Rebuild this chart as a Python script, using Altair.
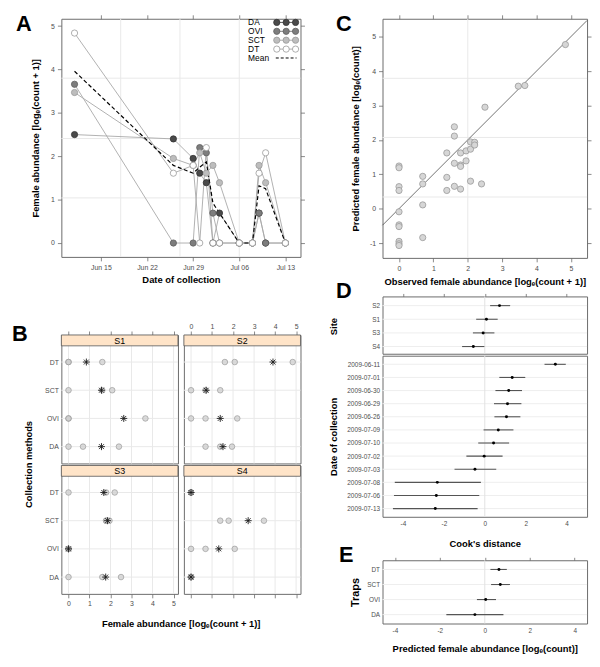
import altair as alt
import pandas as pd

FONT = "Liberation Sans"
LBL = "#4d4d4d"
EDGE = "#6b6b6b"
GRID = "#e9e9e9"
STRIP_FILL = "#ffe4c8"
AST = "M-1,0L1,0M0,-1L0,1M-0.7,-0.7L0.7,0.7M-0.7,0.7L0.7,-0.7"

# ---------------- Panel A data ----------------
a_dates = ["2009-06-11", "2009-06-26", "2009-06-29", "2009-06-30", "2009-07-01", "2009-07-02",
           "2009-07-03", "2009-07-06", "2009-07-08", "2009-07-09", "2009-07-10", "2009-07-13"]
a_traps = ["DA", "OVI", "SCT", "DT"]
a_DA = [2.50, 2.40, 1.95, 1.61, 1.39, 0.00, 0.69, 0.00, 0.00, 0.69, 0.00, 0.00]
a_OVI = [3.66, 0.00, 0.00, 2.20, 2.08, 0.69, 0.00, 0.00, 0.00, 0.69, 0.00, 0.00]
a_SCT = [3.47, 1.95, 1.79, 2.08, 1.61, 1.79, 1.39, 0.00, 0.00, 1.79, 1.39, 0.00]
a_DT = [4.84, 1.61, 1.79, 0.00, 2.20, 0.00, 0.00, 0.00, 0.00, 1.61, 2.08, 0.00]
a_mean = [3.96, 1.79, 1.61, 1.75, 1.87, 0.92, 0.69, 0.00, 0.00, 1.32, 1.25, 0.00]
a_xticks = ["2009-06-15", "2009-06-22", "2009-06-29", "2009-07-06", "2009-07-13"]
a_yticks = [0, 1, 2, 3, 4, 5]
a_grid_dates = ["2009-06-18", "2009-06-27", "2009-07-06"]
a_grid_vals = [1.04, 2.41, 3.80]
a_legend = ["DA", "OVI", "SCT", "DT", "Mean"]
trap_fill = ["#4a4a4a", "#7d7d7d", "#bdbdbd", "#ffffff"]
trap_stroke = ["#333333", "#5e5e5e", "#9a9a9a", "#9a9a9a"]

# ---------------- Panel B data ----------------
b_order = ["DT", "SCT", "OVI", "DA"]
b_site = ["S1"] * 12 + ["S2"] * 12 + ["S3"] * 12 + ["S4"] * 12
b_trap = (["DT"] * 3 + ["SCT"] * 3 + ["OVI"] * 3 + ["DA"] * 3) * 4
b_value = [0, 0, 1.61, 0, 1.61, 2.08, 0, 0, 3.66, 0, 0.69, 2.40,
           1.61, 2.08, 4.84, 0, 0.69, 1.39, 0, 0.69, 2.20, 0.69, 1.39, 1.95,
           0, 1.79, 2.20, 1.79, 1.79, 1.95, 0, 0, 0, 0, 1.61, 2.50,
           0, 0, 0, 1.39, 1.79, 3.47, 0, 0.69, 2.08, 0, 0, 0]
bm_site = ["S1"] * 4 + ["S2"] * 4 + ["S3"] * 4 + ["S4"] * 4
bm_trap = b_order * 4
bm_value = [0.85, 1.57, 2.63, 1.57, 3.90, 0.72, 1.39, 1.52,
            1.68, 1.86, 0.00, 1.77, 0.00, 2.72, 1.32, 0.00]
b_xticks = [0, 1, 2, 3, 4, 5]

# ---------------- Panel C data ----------------
c_obs = [0, 0, 0, 0, 0, 0, 0, 0, 0, 0,
         0.69, 0.69, 0.69, 0.69,
         1.39, 1.39, 1.39,
         1.61, 1.61, 1.61, 1.61,
         1.79, 1.79, 1.79, 1.79,
         1.95, 1.95,
         2.08, 2.08, 2.08,
         2.20, 2.20,
         2.40, 2.50, 3.47, 3.66, 4.84]
c_pred = [1.24, 1.19, 0.64, 0.53, -0.09, -0.47, -0.52, -0.95, -1.02, -1.07,
          0.94, 0.72, 0.11, -0.84,
          1.62, 0.91, 0.53,
          2.38, 2.11, 1.32, 0.65,
          1.62, 1.27, 1.23, 0.57,
          1.68, 1.39,
          1.94, 1.73, 0.80,
          1.93, 1.85,
          0.72, 2.95, 3.56, 3.58, 4.77]
c_abline = [-0.48, 5.47]
c_xticks = [0, 1, 2, 3, 4, 5]
c_yticks = [-1, 0, 1, 2, 3, 4, 5]
c_grid_x = [2.0]
c_grid_y = [0.34, 2.07, 3.79]

# ---------------- Panel D data ----------------
d_sites = ["S2", "S1", "S3", "S4"]
d_site_est = [0.72, 0.08, -0.08, -0.56]
d_site_lo = [0.26, -0.42, -0.58, -1.11]
d_site_hi = [1.24, 0.63, 0.47, -0.02]
d_dates = ["2009-06-11", "2009-07-01", "2009-06-30", "2009-06-29", "2009-06-26", "2009-07-09",
           "2009-07-10", "2009-07-02", "2009-07-03", "2009-07-08", "2009-07-06", "2009-07-13"]
d_date_est = [3.45, 1.34, 1.17, 1.11, 1.06, 0.66, 0.43, -0.03, -0.48, -2.32, -2.37, -2.42]
d_date_lo = [2.92, 0.71, 0.52, 0.45, 0.47, -0.06, -0.32, -0.90, -1.48, -4.40, -4.44, -4.49]
d_date_hi = [3.96, 1.98, 1.82, 1.79, 1.74, 1.40, 1.19, 0.87, 0.56, -0.19, -0.27, -0.35]
de_xticks = [-4, -2, 0, 2, 4]

# ---------------- Panel E data ----------------
e_traps = ["DT", "SCT", "OVI", "DA"]
e_est = [0.63, 0.69, 0.04, -0.44]
e_lo = [0.25, 0.28, -0.35, -1.71]
e_hi = [0.98, 1.12, 0.50, 0.83]


def dt(s, hours=0):
    y, m, d = (int(p) for p in s.split("-"))
    return alt.DateTime(year=y, month=m, date=d, hours=hours, utc=True)


def axis(**kw):
    base = dict(labelFont=FONT, labelColor=LBL, labelFontSize=7, tickColor=EDGE, tickSize=4,
                tickWidth=0.8, domain=False, grid=False, titleFont=FONT, titleFontSize=9.5,
                titleFontWeight="bold", titleColor="black", labelPadding=2, labelFlush=False)
    base.update(kw)
    return alt.Axis(**base)


def label(txt, x, y, size=22, color="black"):
    return alt.Chart(pd.DataFrame({"t": [txt]})).mark_text(
        align="left", baseline="top", font=FONT, fontSize=size, fontWeight="bold", color=color
    ).encode(x=alt.value(x), y=alt.value(y), text="t:N")


def spacer(x, y):
    return label("|", x, y, size=6, color="white")


NUM = "'' + datum.value"

# ================= Panel A =================
A_W, A_H = 242, 241
xA = alt.Scale(type="utc", domain=[dt("2009-06-09"), dt("2009-07-15", 7)], nice=False)
yA = alt.Scale(domain=[-0.32, 5.17], nice=False, zero=False)
xA_vals = [dt(s) for s in a_xticks]

a_df = pd.DataFrame({"date": a_dates * 4,
                     "trap": [t for t in a_traps for _ in a_dates],
                     "value": a_DA + a_OVI + a_SCT + a_DT})
a_mean_df = pd.DataFrame({"date": a_dates, "value": a_mean})

A_gridv = alt.Chart(pd.DataFrame({"date": a_grid_dates})).mark_rule(color=GRID, strokeWidth=1).encode(
    x=alt.X("date:T", scale=xA, axis=axis(orient="top", values=xA_vals, labels=False, title=None)))
A_gridh = alt.Chart(pd.DataFrame({"value": a_grid_vals})).mark_rule(color=GRID, strokeWidth=1).encode(
    y=alt.Y("value:Q", scale=yA, axis=axis(orient="right", values=a_yticks, labels=False, title=None)))
A_lines = alt.Chart(a_df).mark_line(color="#a8a8a8", strokeWidth=0.9).encode(
    x=alt.X("date:T", scale=xA, axis=None), y=alt.Y("value:Q", scale=yA, axis=None), detail="trap:N")
A_mean = alt.Chart(a_mean_df).mark_line(color="black", strokeWidth=1.2, strokeDash=[4, 2.5]).encode(
    x=alt.X("date:T", scale=xA, axis=None), y=alt.Y("value:Q", scale=yA, axis=None))
A_pts = alt.Chart(a_df).mark_point(shape="circle", filled=True, size=40, opacity=1, strokeWidth=0.8).encode(
    x=alt.X("date:T", scale=xA, axis=axis(values=xA_vals, labelExpr="utcFormat(datum.value, '%b %d')",
                                          title="Date of collection", titleY=18, labelPadding=3)),
    y=alt.Y("value:Q", scale=yA, axis=axis(values=a_yticks, title="Female abundance [logₑ(count + 1)]",
                                           titleX=-21, labelPadding=3)),
    fill=alt.Fill("trap:N", scale=alt.Scale(domain=a_traps, range=trap_fill), legend=None),
    stroke=alt.Stroke("trap:N", scale=alt.Scale(domain=a_traps, range=trap_stroke), legend=None))

leg_df = pd.DataFrame({"name": a_legend, "row": list(range(len(a_legend))),
                       "fill": trap_fill + ["#ffffff"], "stroke": trap_stroke + ["#000000"]})
leg_y = alt.Y("row:Q", scale=alt.Scale(domain=[0, 4], range=[3.7, 39.7]), axis=None)
leg_text = alt.Chart(leg_df).mark_text(align="left", baseline="middle", font=FONT, fontSize=8.5,
                                       color="black").encode(x=alt.value(189), y=leg_y, text="name:N")
leg_line = alt.Chart(leg_df).transform_filter("datum.row < 4").mark_rule(strokeWidth=0.8).encode(
    x=alt.value(217), x2=alt.value(238), y=leg_y, color=alt.Color("stroke:N", scale=None))
leg_mean = alt.Chart(leg_df).transform_filter("datum.row == 4").mark_rule(
    strokeWidth=1, strokeDash=[3, 2], color="black").encode(x=alt.value(217), x2=alt.value(238), y=leg_y)
leg_pts = [alt.Chart(leg_df).transform_filter("datum.row < 4").mark_point(
    shape="circle", filled=True, size=40, opacity=1, strokeWidth=0.8).encode(
    x=alt.value(px), y=leg_y, fill=alt.Fill("fill:N", scale=None), stroke=alt.Stroke("stroke:N", scale=None))
    for px in (218, 227.5, 237)]

A = alt.layer(A_gridv, A_gridh, A_lines, A_mean, A_pts, leg_line, leg_mean, *leg_pts, leg_text,
              label("A", -46, -5)).resolve_scale(y="independent").resolve_axis(
    x="independent", y="independent").properties(width=A_W, height=A_H)

# ================= Panel B =================
B_W, B_H, STRIP = 118, 130, 11
xB = alt.Scale(domain=[-0.34, 5.21], nice=False, zero=False)
yB = alt.Scale(type="point", domain=b_order, range=[27.4, 113.0], padding=0)
b_df = pd.DataFrame({"site": b_site, "trap": b_trap, "value": b_value})
bm_df = pd.DataFrame({"site": bm_site, "trap": bm_trap, "value": bm_value})


def b_panel(site, xorient, xlabels, ylabels, extras):
    d = b_df[b_df.site == site]
    m = bm_df[bm_df.site == site]
    x_kw = dict(orient=xorient, values=b_xticks, title=None, labelPadding=2)
    if xlabels == "hidden":
        x_kw["labelColor"] = "white"
    elif not xlabels:
        x_kw["labels"] = False
    y_kw = dict(orient="left", ticks=False, title=None, labelPadding=3)
    if not ylabels:
        y_kw["labels"] = False
    gridv = alt.Chart(pd.DataFrame({"g": b_xticks})).mark_rule(color=GRID, strokeWidth=1).encode(
        x=alt.X("g:Q", scale=xB, axis=axis(**x_kw)))
    gridh = alt.Chart(pd.DataFrame({"trap": b_order})).mark_rule(color=GRID, strokeWidth=1).encode(
        y=alt.Y("trap:N", scale=yB, axis=axis(**y_kw)))
    strip = alt.Chart(pd.DataFrame({"site": [site]}))
    rect = strip.mark_rect(fill=STRIP_FILL, stroke="#555555", strokeWidth=0.8).encode(
        x=alt.value(0), x2=alt.value(B_W), y=alt.value(0), y2=alt.value(STRIP))
    stxt = strip.mark_text(font=FONT, fontSize=9, color="black", baseline="middle").encode(
        x=alt.value(B_W / 2), y=alt.value(STRIP / 2 + 0.5), text="site:N")
    circles = alt.Chart(d).mark_point(shape="circle", filled=True, size=32, opacity=1, fill="#cccccc",
                                      fillOpacity=0.7, stroke="#999999", strokeWidth=0.7).encode(
        x=alt.X("value:Q", scale=xB, axis=None), y=alt.Y("trap:N", scale=yB, axis=None))
    stars = alt.Chart(m).mark_point(shape=AST, filled=False, size=50, stroke="#1a1a1a",
                                    strokeWidth=0.9, opacity=1).encode(
        x=alt.X("value:Q", scale=xB, axis=None), y=alt.Y("trap:N", scale=yB, axis=None))
    return alt.layer(gridv, gridh, rect, stxt, circles, stars, *extras).resolve_axis(
        x="independent", y="independent").properties(width=B_W, height=B_H)


S1 = b_panel("S1", "top", "hidden", True, [label("B", -50, -11)])
S2 = b_panel("S2", "top", True, False, [])
S3 = b_panel("S3", "bottom", True, True, [spacer(-50, 40)])
S4 = b_panel("S4", "bottom", False, False, [])

colL = alt.vconcat(S1, S3, spacing=0).properties(
    title=alt.TitleParams("Collection methods", orient="left", anchor="middle", font=FONT, fontSize=9.5,
                          fontWeight="bold", color="black", offset=-22))
colR = alt.vconcat(S2, S4, spacing=0)
B = alt.hconcat(colL, colR, spacing=4).properties(
    title=alt.TitleParams("Female abundance [logₑ(count + 1)]", orient="bottom", anchor="middle", font=FONT,
                          fontSize=9.5, fontWeight="bold", color="black", offset=12, dx=25))

# ================= Panel C =================
C_W, C_H = 207, 242
xC = alt.Scale(domain=[-0.48, 5.47], nice=False, zero=False)
yC = alt.Scale(domain=[-1.43, 5.52], nice=False, zero=False)
c_df = pd.DataFrame({"obs": c_obs, "pred": c_pred})
C_gridv = alt.Chart(pd.DataFrame({"obs": c_grid_x})).mark_rule(color=GRID, strokeWidth=1).encode(
    x=alt.X("obs:Q", scale=xC, axis=axis(orient="top", values=c_xticks, labels=False, title=None)))
C_gridh = alt.Chart(pd.DataFrame({"pred": c_grid_y})).mark_rule(color=GRID, strokeWidth=1).encode(
    y=alt.Y("pred:Q", scale=yC, axis=axis(orient="right", values=c_yticks, labels=False, title=None)))
C_line = alt.Chart(pd.DataFrame({"obs": c_abline, "pred": c_abline})).mark_line(
    color="#4d4d4d", strokeWidth=0.8).encode(
    x=alt.X("obs:Q", scale=xC, axis=None), y=alt.Y("pred:Q", scale=yC, axis=None))
C_pts = alt.Chart(c_df).mark_point(shape="circle", filled=True, size=40, opacity=1, fill="#d6d6d6",
                                   stroke="#9a9a9a", strokeWidth=0.8).encode(
    x=alt.X("obs:Q", scale=xC, axis=axis(values=c_xticks, labelExpr=NUM, labelPadding=3, titleY=19,
                                         title="Observed female abundance [logₑ(count + 1)]")),
    y=alt.Y("pred:Q", scale=yC, axis=axis(values=c_yticks, labelExpr=NUM, labelPadding=3, titleX=-22,
                                          title="Predicted female abundance [logₑ(count)]")))
C = alt.layer(C_gridv, C_gridh, C_line, C_pts, label("C", -47, -5), spacer(-56, 100)).resolve_axis(
    x="independent", y="independent").properties(width=C_W, height=C_H)


# ================= Panels D and E =================
def forest(cats, est, lo, hi, W, H, rng, xdom, y_title, y_title_x, y_title_size,
           top_ticks, x_title, x_title_y, extras):
    df = pd.DataFrame({"cat": cats, "est": est, "lo": lo, "hi": hi})
    xs = alt.Scale(domain=xdom, nice=False, zero=False)
    ys = alt.Scale(type="point", domain=cats, range=rng, padding=0)
    top_ax = axis(orient="top", values=de_xticks, labels=False, title=None, tickSize=3) if top_ticks else None
    if x_title:
        bot_ax = axis(orient="bottom", values=de_xticks, ticks=False, labelFontSize=6.5, labelPadding=4,
                      labelExpr=NUM, title=x_title, titleY=x_title_y)
    else:
        bot_ax = None
    rows = alt.Chart(df).mark_rule(color="#eeeeee", strokeWidth=1).encode(
        y=alt.Y("cat:N", scale=ys, axis=axis(orient="left", ticks=False, labelFontSize=6.5, labelPadding=3,
                                             title=y_title, titleX=y_title_x, titleFontSize=y_title_size)))
    zero = alt.Chart(pd.DataFrame({"z": [0]})).mark_rule(color="#e2e2e2", strokeWidth=1).encode(
        x=alt.X("z:Q", scale=xs, axis=top_ax))
    bars = alt.Chart(df).mark_rule(color="#555555", strokeWidth=1.1).encode(
        x=alt.X("lo:Q", scale=xs, axis=bot_ax), x2="hi:Q", y=alt.Y("cat:N", scale=ys, axis=None))
    dots = alt.Chart(df).mark_point(shape="circle", filled=True, size=9, color="black", opacity=1).encode(
        x=alt.X("est:Q", scale=xs, axis=None), y=alt.Y("cat:N", scale=ys, axis=None))
    return alt.layer(rows, zero, bars, dots, *extras).resolve_axis(
        x="independent", y="independent").properties(width=W, height=H)


Dsite = forest(d_sites, d_site_est, d_site_lo, d_site_hi, 207, 58, [9.3, 50.7], [-5, 5],
               "Site", -45, 9.5, True, None, 0, [label("D", -47, -15.5), spacer(-56, 20)])
Ddate = forest(d_dates, d_date_est, d_date_lo, d_date_hi, 207, 163, [8.7, 154.7], [-5, 5],
               "Date of collection", -45, 9.5, False, "Cook's distance", 22, [spacer(-56, 60)])
E = forest(e_traps, e_est, e_lo, e_hi, 207, 64, [9.3, 55.0], [-4.55, 4.55],
           "Traps", -22, 11, True, "Predicted female abundance [logₑ(count)]", 20,
           [label("E", -44, -15), spacer(-56, 30)])

D = alt.vconcat(Dsite, Ddate, spacing=0)
DE = alt.vconcat(D, E, spacing=-5)
right_col = alt.vconcat(C, DE, spacing=-7)
left_col = alt.vconcat(A, B, spacing=37)

chart = alt.hconcat(left_col, right_col, spacing=21).properties(
    padding={"left": 3, "top": 0, "right": 0, "bottom": 0}
).configure(font=FONT).configure_view(stroke=EDGE, strokeWidth=1)

chart.save("out.html", embed_options={"renderer": "svg", "actions": False})
